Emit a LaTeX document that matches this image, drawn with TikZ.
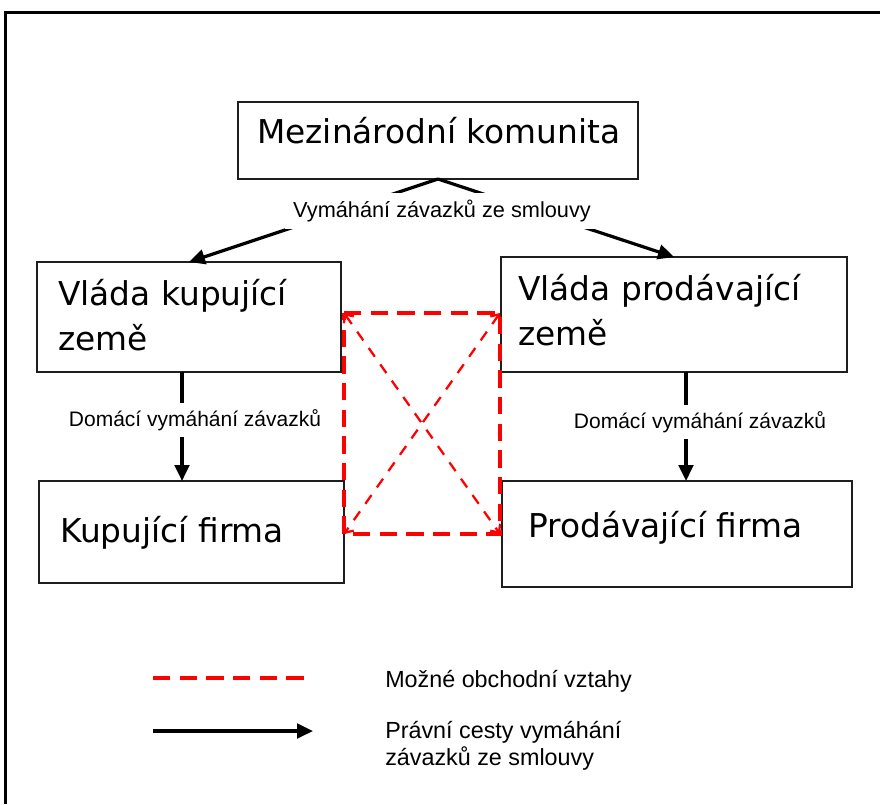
\documentclass[tikz,border=0pt]{standalone}
\usepackage{fontspec}
\setmainfont{Liberation Sans}
\newfontfamily\boxfont{DejaVu Sans}
\usetikzlibrary{arrows.meta}

\tikzset{
  box/.style={rectangle, draw={rgb, 255:red, 30; green, 30; blue, 30}, line width=1.1pt, inner sep=0pt, outer sep=0pt},
  boxtext/.style={anchor=base west, inner sep=0pt, align=left, font=\boxfont\fontsize{24.6}{33.75}\selectfont},
  lawarrow/.style={line width=2.4pt, -{Triangle[length=12pt,width=11pt]}},
  trade/.style={draw=red, line width=2.6pt, dash pattern=on 13pt off 7pt},
  tradediag/.style={draw=red, line width=1.7pt, dash pattern=on 8pt off 7pt, {Straight Barb[length=5pt,width=9pt]}-{Straight Barb[length=5pt,width=9pt]}},
  lbl/.style={fill=white, inner sep=0pt},
  legendtext/.style={anchor=base west, inner sep=0pt, align=left, font=\fontsize{17.5}{20.25}\selectfont},
}

\begin{document}
\begin{tikzpicture}[x=0.75pt,y=0.75pt,yscale=-1,xscale=1]
\useasboundingbox (0,0) rectangle (880,804);
\clip (0,0) rectangle (880,804);

%Frame
\draw [line width=1.6pt] (880,12.5) -- (5.5,12.5) -- (5.5,804);

%Shape: Rectangle
\node [box, minimum width=300pt, minimum height=57.75pt] (mk) at (438,140.5) {};
%Shape: Rectangle
\node [box, minimum width=228pt, minimum height=82.5pt] (vk) at (189,317) {};
%Shape: Rectangle
\node [box, minimum width=259.5pt, minimum height=86.25pt] (vp) at (674,314.5) {};
%Shape: Rectangle
\node [box, minimum width=228.75pt, minimum height=76.5pt] (kf) at (191.5,532) {};
%Shape: Rectangle
\node [box, minimum width=262.5pt, minimum height=79.5pt] (pf) at (677,534) {};

%Dashed rectangle and cross
\coordinate (ra) at (344,313);
\coordinate (rb) at (500,313);
\coordinate (rc) at (344,534);
\coordinate (rd) at (500,534);
\draw [trade] (ra) -- (rb) -- (rd) -- (rc) -- cycle;
\draw [tradediag] (ra) -- (rd);
\draw [tradediag] (rb) -- (rc);

%Arrows
\draw [lawarrow] (mk.south) -- (vk.north);
\draw [lawarrow] (mk.south) -- (vp.north);
\coordinate (dl) at (182,0);
\coordinate (dr) at (686,0);
\draw [lawarrow] (vk.south -| dl) -- (kf.north -| dl);
\draw [lawarrow] (vp.south -| dr) -- (pf.north -| dr);

% Text Node
\node [lbl, minimum height=27pt, inner xsep=6pt, font=\fontsize{16.3}{19}\selectfont] (vym) at (442,211) {Vymáhání závazků ze smlouvy};
% Text Node
\node [lbl, minimum height=25pt, inner xsep=3pt, font=\fontsize{15.75}{19}\selectfont] (dvk) at (195,420) {Domácí vymáhání závazků};
% Text Node
\node [lbl, minimum height=25pt, inner xsep=3pt, font=\fontsize{15.75}{19}\selectfont] (dvp) at (700,422) {Domácí vymáhání závazků};

% Text Node
\node [boxtext] (mkt) at (257,143) {Mezinárodní komunita};
% Text Node
\node [boxtext] (vkt) at (58,350) {Vláda kupující\\země};
% Text Node
\node [boxtext] (vpt) at (518,345) {Vláda prodávající\\země};
% Text Node
\node [boxtext] (kft) at (60,542) {Kupující firma};
% Text Node
\node [boxtext] (pft) at (528,537) {Prodávající firma};

%Legend
\coordinate (lga) at (153,678);
\coordinate (lgb) at (312,678);
\draw [trade] (lga) -- (lgb);
\coordinate (lgc) at (153,731);
\coordinate (lgd) at (313,731);
\draw [lawarrow] (lgc) -- (lgd);
% Text Node
\node [legendtext] (lgt1) at (385,687) {Možné obchodní vztahy};
% Text Node
\node [legendtext] (lgt2) at (385,765) {Právní cesty vymáhání\\závazků ze smlouvy};

\end{tikzpicture}
\end{document}
